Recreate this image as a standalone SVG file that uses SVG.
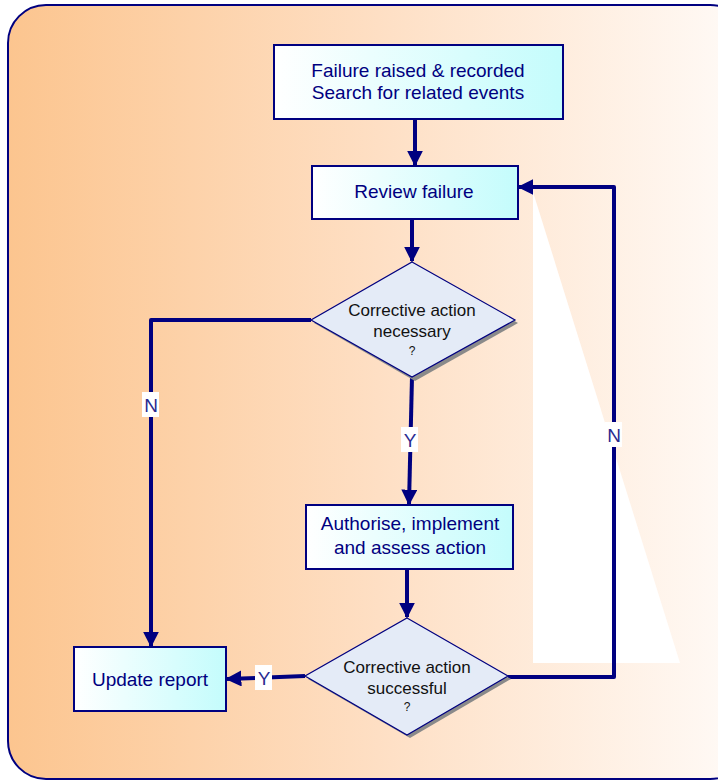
<svg xmlns="http://www.w3.org/2000/svg" width="718" height="782" viewBox="0 0 718 782">
  <defs>
    <linearGradient id="bg" x1="0" y1="0" x2="1" y2="0">
      <stop offset="0" stop-color="#FCC58F"/>
      <stop offset="0.5" stop-color="#FEDFC4"/>
      <stop offset="1" stop-color="#FFFBF8"/>
    </linearGradient>
    <linearGradient id="boxFill" x1="0" y1="0" x2="1" y2="0">
      <stop offset="0" stop-color="#FFFFFF"/>
      <stop offset="1" stop-color="#C4FCFC"/>
    </linearGradient>
    <marker id="arrow" viewBox="0 0 10 10" refX="9" refY="5" markerWidth="4" markerHeight="4" orient="auto" markerUnits="strokeWidth">
      <path d="M0,0 L10,5 L0,10 Z" fill="#000080"/>
    </marker>
    <style>
      .box { fill: url(#boxFill); stroke: #000080; stroke-width: 2; }
      .dia { fill: #E4EBF7; stroke: #000080; stroke-width: 1.2; }
      .shadow { fill: #8A8A8A; }
      .btxt { font-family: "Liberation Sans", Arial, sans-serif; font-size: 19px; fill: #000080; text-anchor: middle; }
      .dtxt { font-family: "Liberation Sans", Arial, sans-serif; font-size: 17px; fill: #111111; text-anchor: middle; }
      .qtxt { font-family: "Liberation Sans", Arial, sans-serif; font-size: 12px; fill: #111111; text-anchor: middle; }
      .link { fill: none; stroke: #000080; stroke-width: 4; stroke-linejoin: round; }
      .lblbg { fill: #FFFFFF; }
      .ltxt { font-family: "Liberation Sans", Arial, sans-serif; font-size: 19px; fill: #2A2A90; text-anchor: middle; }
    </style>
  </defs>

  <!-- outer panel -->
  <rect x="8" y="5" width="740" height="774" rx="38" ry="38" fill="url(#bg)" stroke="#000080" stroke-width="2"/>

  <!-- white wedge on the right -->
  <polygon points="533,192 533,663 680,663" fill="#FFFFFF"/>

  <!-- connectors -->
  <g id="connectors">
    <line class="link" x1="415" y1="119" x2="415" y2="165" marker-end="url(#arrow)"/>
    <line class="link" x1="412" y1="219" x2="412" y2="261" marker-end="url(#arrow)"/>
    <line class="link" x1="412" y1="377" x2="409" y2="504" marker-end="url(#arrow)"/>
    <line class="link" x1="407" y1="569" x2="407" y2="617" marker-end="url(#arrow)"/>
    <polyline class="link" points="311,320 151,320 151,646" marker-end="url(#arrow)"/>
    <polyline class="link" points="305,676 227,679" marker-end="url(#arrow)"/>
    <polyline class="link" points="508,677 614,677 614,187 519,187" marker-end="url(#arrow)"/>
    <!-- branch labels -->
    <rect class="lblbg" x="142" y="392" width="17" height="25"/>
    <text class="ltxt" x="151" y="412">N</text>
    <rect class="lblbg" x="401" y="427" width="17" height="25"/>
    <text class="ltxt" x="410" y="447">Y</text>
    <rect class="lblbg" x="605" y="422" width="17" height="25"/>
    <text class="ltxt" x="614" y="442">N</text>
    <rect class="lblbg" x="255" y="665" width="17" height="25"/>
    <text class="ltxt" x="264" y="685">Y</text>
  </g>

  <g id="failure-raised">
    <rect class="box" x="274" y="45" width="289" height="74"/>
    <text class="btxt" x="418" y="77">Failure raised &amp; recorded</text>
    <text class="btxt" x="418" y="99">Search for related events</text>
  </g>

  <g id="review-failure">
    <rect class="box" x="312" y="166" width="206" height="53"/>
    <text class="btxt" x="414" y="198">Review failure</text>
  </g>

  <g id="action-necessary">
    <polygon class="shadow" points="415,265 518,323 415,381 314,323"/>
    <polygon class="dia" points="412,262 515,320 412,377 311,320"/>
    <text class="dtxt" x="412" y="316">Corrective action</text>
    <text class="dtxt" x="412" y="337">necessary</text>
    <text class="qtxt" x="412" y="355">?</text>
  </g>

  <g id="authorise-action">
    <rect class="box" x="306" y="505" width="207" height="64"/>
    <text class="btxt" x="410" y="530">Authorise, implement</text>
    <text class="btxt" x="410" y="554">and assess action</text>
  </g>

  <g id="action-successful">
    <polygon class="shadow" points="410,621 511,679 410,738 308,679"/>
    <polygon class="dia" points="407,618 508,676 407,735 305,676"/>
    <text class="dtxt" x="407" y="673">Corrective action</text>
    <text class="dtxt" x="407" y="694">successful</text>
    <text class="qtxt" x="407" y="711">?</text>
  </g>

  <g id="update-report">
    <rect class="box" x="74" y="647" width="152" height="64"/>
    <text class="btxt" x="150" y="686">Update report</text>
  </g>
</svg>
